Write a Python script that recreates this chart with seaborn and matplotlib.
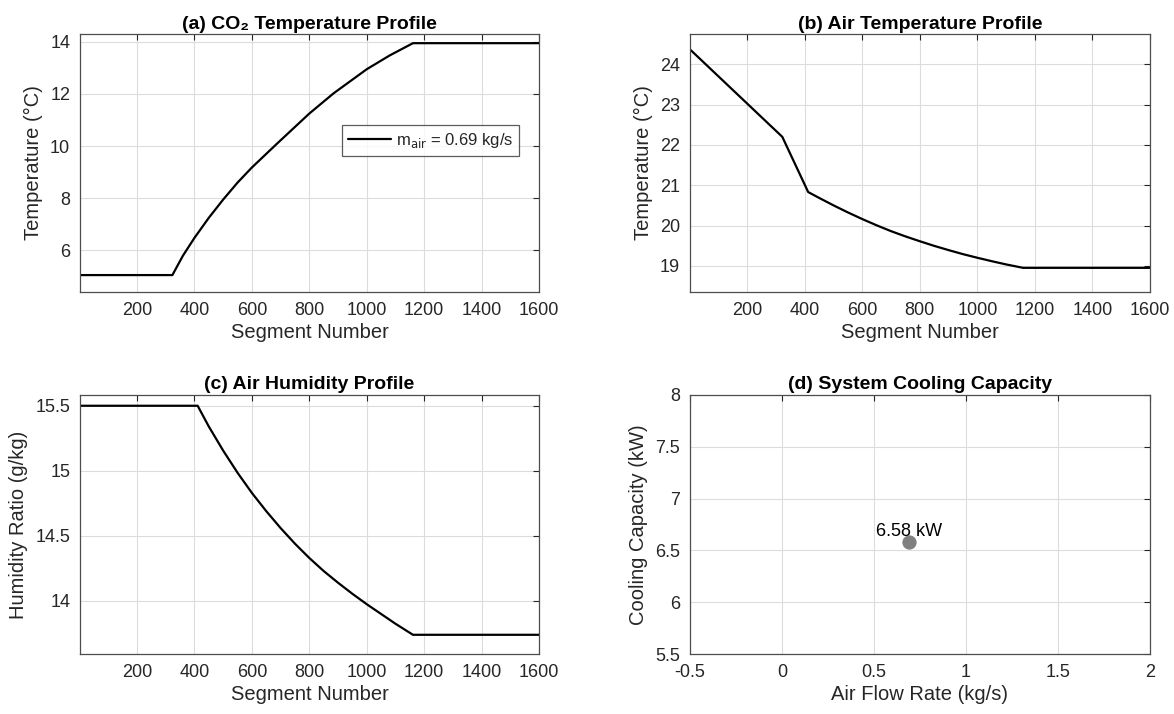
import matplotlib
matplotlib.use("Agg")
import matplotlib.pyplot as plt
from matplotlib.ticker import FuncFormatter
import seaborn as sns

sns.set_style("whitegrid")
plt.rcParams["font.family"] = ["Liberation Sans", "DejaVu Sans"]

# (a) CO2 temperature along the coil
co2_seg = [1, 323, 360, 400, 450, 500, 550, 600, 688, 800, 885, 1000, 1080, 1161, 1600]
co2_temp = [5.05, 5.05, 5.8, 6.48, 7.25, 7.95, 8.6, 9.18, 10.1, 11.25, 12.03, 12.95, 13.48, 13.95, 13.95]

# (b) air temperature
air_seg = [1, 322, 412, 450, 500, 550, 600, 650, 700, 750, 800, 850, 900, 950, 1000, 1050, 1100, 1159, 1600]
air_temp = [24.37, 22.2, 20.83, 20.685, 20.5, 20.325, 20.16, 20.005, 19.86, 19.73, 19.61, 19.495,
            19.39, 19.29, 19.2, 19.115, 19.035, 18.95, 18.95]

# (c) air humidity ratio
hum_seg = [1, 411, 450, 500, 550, 600, 650, 700, 750, 800, 850, 900, 950, 1000, 1050, 1100, 1161, 1600]
hum_ratio = [15.5, 15.5, 15.34, 15.155, 14.985, 14.83, 14.69, 14.56, 14.44, 14.33, 14.23, 14.14,
             14.055, 13.975, 13.9, 13.825, 13.74, 13.74]

# (d) cooling capacity at the design air flow
flow_rate = [0.69]
capacity = [6.58]
legend_label = r"m$_{\mathrm{air}}$ = 0.69 kg/s"

fig = plt.figure(figsize=(11.74, 7.14), dpi=100)
ax_a = fig.add_axes([0.0681, 0.591, 0.391, 0.3613])
ax_b = fig.add_axes([0.5877, 0.591, 0.3918, 0.3613])
ax_c = fig.add_axes([0.0681, 0.0836, 0.391, 0.3636])
ax_d = fig.add_axes([0.5877, 0.0836, 0.3918, 0.3636])

dark = "#262626"
fmt = FuncFormatter(lambda v, p: "%g" % v)

def style(ax, title, xlabel, ylabel):
    ax.set_title(title, fontsize=14, fontweight="bold", color="black", pad=4)
    ax.set_xlabel(xlabel, fontsize=14.5, color=dark, labelpad=3)
    ax.set_ylabel(ylabel, fontsize=14.5, color=dark, labelpad=5)
    ax.tick_params(direction="in", length=4, width=0.8, top=True, right=True,
                   labelsize=13, colors=dark, pad=7)
    ax.grid(True, color="#dcdcdc", linewidth=0.8)
    for s in ax.spines.values():
        s.set_visible(True)
        s.set_color("#4d4d4d")
        s.set_linewidth(0.9)
    ax.xaxis.set_major_formatter(fmt)
    ax.yaxis.set_major_formatter(fmt)

sns.lineplot(x=co2_seg, y=co2_temp, ax=ax_a, color="black", linewidth=1.6, label=legend_label)
style(ax_a, "(a) CO\u2082 Temperature Profile", "Segment Number", "Temperature (°C)")
ax_a.set_xlim(1, 1600)
ax_a.set_ylim(4.4, 14.3)
ax_a.set_xticks(range(200, 1601, 200))
ax_a.set_yticks([6, 8, 10, 12, 14])
leg = ax_a.legend(loc="upper left", bbox_to_anchor=(0.571, 0.647), borderaxespad=0,
                  fontsize=12, frameon=True, fancybox=False, handlelength=2.6,
                  handletextpad=0.3, borderpad=0.35)
leg.get_frame().set_edgecolor("#333333")
leg.get_frame().set_linewidth(0.9)

sns.lineplot(x=air_seg, y=air_temp, ax=ax_b, color="black", linewidth=1.6)
style(ax_b, "(b) Air Temperature Profile", "Segment Number", "Temperature (°C)")
ax_b.set_xlim(1, 1600)
ax_b.set_ylim(18.35, 24.75)
ax_b.set_xticks(range(200, 1601, 200))
ax_b.set_yticks([19, 20, 21, 22, 23, 24])

sns.lineplot(x=hum_seg, y=hum_ratio, ax=ax_c, color="black", linewidth=1.6)
style(ax_c, "(c) Air Humidity Profile", "Segment Number", "Humidity Ratio (g/kg)")
ax_c.set_xlim(1, 1600)
ax_c.set_ylim(13.59, 15.585)
ax_c.set_xticks(range(200, 1601, 200))
ax_c.set_yticks([14, 14.5, 15, 15.5])

sns.scatterplot(x=flow_rate, y=capacity, ax=ax_d, color="#808080", s=90, edgecolor="#808080")
style(ax_d, "(d) System Cooling Capacity", "Air Flow Rate (kg/s)", "Cooling Capacity (kW)")
ax_d.set_xlim(-0.5, 2)
ax_d.set_ylim(5.5, 8)
ax_d.set_xticks([-0.5, 0, 0.5, 1, 1.5, 2])
ax_d.set_yticks([5.5, 6, 6.5, 7, 7.5, 8])
for fx, cy in zip(flow_rate, capacity):
    ax_d.text(fx, cy + 0.02, "%.2f kW" % cy, ha="center", va="bottom", fontsize=13, color="black")

fig.savefig("out.png", dpi=100)
